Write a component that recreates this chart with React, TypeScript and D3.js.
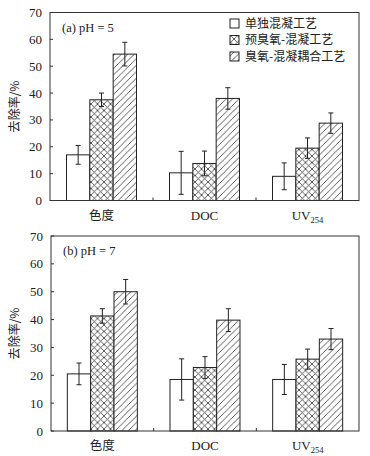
import React, { useEffect, useRef } from 'react'
import * as d3 from 'd3'

const categories = ['色度', 'DOC', 'UV254']
const seriesNames = ['单独混凝工艺', '预臭氧-混凝工艺', '臭氧-混凝耦合工艺']
const yTicks = [0, 10, 20, 30, 40, 50, 60, 70]

// pH = 5
const valuesA = [
  [17, 37.5, 54.5],
  [10.3, 13.8, 38],
  [9, 19.5, 28.8],
]
const errorsA = [
  [3.5, 2.5, 4.4],
  [8, 4.6, 4],
  [5, 3.8, 3.8],
]

// pH = 7
const valuesB = [
  [20.5, 41.3, 50],
  [18.5, 22.8, 39.8],
  [18.5, 25.8, 33],
]
const errorsB = [
  [3.9, 2.6, 4.4],
  [7.4, 3.9, 4.1],
  [5.4, 3.6, 3.8],
]

const fills = ['#fff', 'url(#crossHatch)', 'url(#diagHatch)']
const serif = '"Liberation Serif", "Times New Roman", serif'
const cjk = '"Noto Sans CJK SC", sans-serif'

interface PanelProps {
  values: number[][];
  errors: number[][];
  label: string;
  left: number;
  right: number;
  top: number;
  bottom: number;
  legend?: boolean;
}

function drawPanel(svg: d3.Selection<SVGSVGElement, unknown, null, undefined>, p: PanelProps) {
  const g = svg.append('g')

  const x = d3.scaleBand<string>().domain(categories).range([p.left, p.right])
  const xSub = d3.scaleBand<number>().domain([0, 1, 2]).range([-35, 35])
  const y = d3.scaleLinear().domain([0, 70]).range([p.bottom, p.top])

  // bars
  categories.forEach((c, ci) => {
    const cx = x(c)! + x.bandwidth() / 2
    p.values[ci].forEach((v, si) => {
      const bx = cx + xSub(si)!
      g.append('rect')
        .attr('x', bx)
        .attr('y', y(v))
        .attr('width', xSub.bandwidth())
        .attr('height', y(0) - y(v))
        .attr('fill', fills[si])
        .attr('stroke', '#222')
        .attr('stroke-width', 1)

      const mx = bx + xSub.bandwidth() / 2
      const e = p.errors[ci][si]
      const eb = g.append('g').attr('stroke', '#222').attr('stroke-width', 1)
      eb.append('line').attr('x1', mx).attr('x2', mx).attr('y1', y(v - e)).attr('y2', y(v + e))
      eb.append('line').attr('x1', mx - 2.5).attr('x2', mx + 2.5).attr('y1', y(v - e)).attr('y2', y(v - e))
      eb.append('line').attr('x1', mx - 2.5).attr('x2', mx + 2.5).attr('y1', y(v + e)).attr('y2', y(v + e))
    })
  })

  // frame
  g.append('rect')
    .attr('x', p.left)
    .attr('y', p.top)
    .attr('width', p.right - p.left)
    .attr('height', p.bottom - p.top)
    .attr('fill', 'none')
    .attr('stroke', '#333')
    .attr('stroke-width', 1)

  // y ticks (inside)
  yTicks.forEach(t => {
    g.append('line')
      .attr('x1', p.left).attr('x2', p.left + 3)
      .attr('y1', y(t)).attr('y2', y(t))
      .attr('stroke', '#333')
    g.append('text')
      .attr('x', p.left - 8)
      .attr('y', y(t))
      .attr('dy', '0.35em')
      .attr('text-anchor', 'end')
      .attr('font-family', serif)
      .attr('font-size', '13px')
      .attr('fill', '#222')
      .text(t)
  })

  // category separators
  categories.slice(1).forEach(c => {
    g.append('line')
      .attr('x1', x(c)!).attr('x2', x(c)!)
      .attr('y1', p.bottom).attr('y2', p.bottom - 3)
      .attr('stroke', '#333')
  })

  // category labels
  categories.forEach(c => {
    const t = g.append('text')
      .attr('x', x(c)! + x.bandwidth() / 2)
      .attr('y', p.bottom + 19)
      .attr('text-anchor', 'middle')
      .attr('font-size', '13px')
      .attr('fill', '#222')
    if (c === 'UV254') {
      t.attr('font-family', serif)
      t.append('tspan').text('UV')
      t.append('tspan').attr('font-size', '8.5px').attr('dy', 3).text('254')
    } else if (c === 'DOC') {
      t.attr('font-family', serif).text(c)
    } else {
      t.attr('font-family', cjk).attr('font-size', '12.5px').text(c)
    }
  })

  // y label
  g.append('text')
    .attr('transform', `translate(15,${(p.top + p.bottom) / 2}) rotate(-90)`)
    .attr('text-anchor', 'middle')
    .attr('dy', '0.35em')
    .attr('font-family', cjk)
    .attr('font-size', '12px')
    .attr('fill', '#222')
    .text('去除率/%')

  // panel label
  g.append('text')
    .attr('x', p.left + 12)
    .attr('y', p.top + 19)
    .attr('font-family', serif)
    .attr('font-size', '12.5px')
    .attr('fill', '#222')
    .text(p.label)

  if (p.legend) {
    seriesNames.forEach((s, i) => {
      const ly = p.top + 11 + i * 16.5
      g.append('rect')
        .attr('x', 230)
        .attr('y', ly - 4.5)
        .attr('width', 9)
        .attr('height', 9)
        .attr('fill', fills[i])
        .attr('stroke', '#222')
      g.append('text')
        .attr('x', 245)
        .attr('y', ly)
        .attr('dy', '0.35em')
        .attr('font-family', cjk)
        .attr('font-size', '12px')
        .attr('fill', '#222')
        .text(s)
    })
  }
}

export default function App() {
  const svgRef = useRef<SVGSVGElement>(null)

  useEffect(() => {
    if (!svgRef.current) return
    const svg = d3.select(svgRef.current)
    svg.selectAll('*').remove()

    const defs = svg.append('defs')
    const cross = defs.append('pattern')
      .attr('id', 'crossHatch')
      .attr('patternUnits', 'userSpaceOnUse')
      .attr('width', 6.5)
      .attr('height', 6.5)
    cross.append('rect').attr('width', 6.5).attr('height', 6.5).attr('fill', '#fff')
    cross.append('path')
      .attr('d', 'M0,0L6.5,6.5M0,6.5L6.5,0')
      .attr('stroke', '#333')
      .attr('stroke-width', 0.8)

    const diag = defs.append('pattern')
      .attr('id', 'diagHatch')
      .attr('patternUnits', 'userSpaceOnUse')
      .attr('width', 6.5)
      .attr('height', 6.5)
    diag.append('rect').attr('width', 6.5).attr('height', 6.5).attr('fill', '#fff')
    diag.append('path')
      .attr('d', 'M-1,1L1,-1M0,6.5L6.5,0M5.5,7.5L7.5,5.5')
      .attr('stroke', '#333')
      .attr('stroke-width', 0.8)

    drawPanel(svg, {
      values: valuesA, errors: errorsA, label: '(a)  pH = 5',
      left: 50, right: 359, top: 12.5, bottom: 200.5, legend: true,
    })
    drawPanel(svg, {
      values: valuesB, errors: errorsB, label: '(b) pH = 7',
      left: 51, right: 359, top: 236, bottom: 431,
    })
  }, [])

  return (
    <svg
      ref={svgRef}
      width={370}
      height={456}
      style={{ position: 'absolute', left: 0, top: 0, background: '#fff' }}
    />
  )
}
